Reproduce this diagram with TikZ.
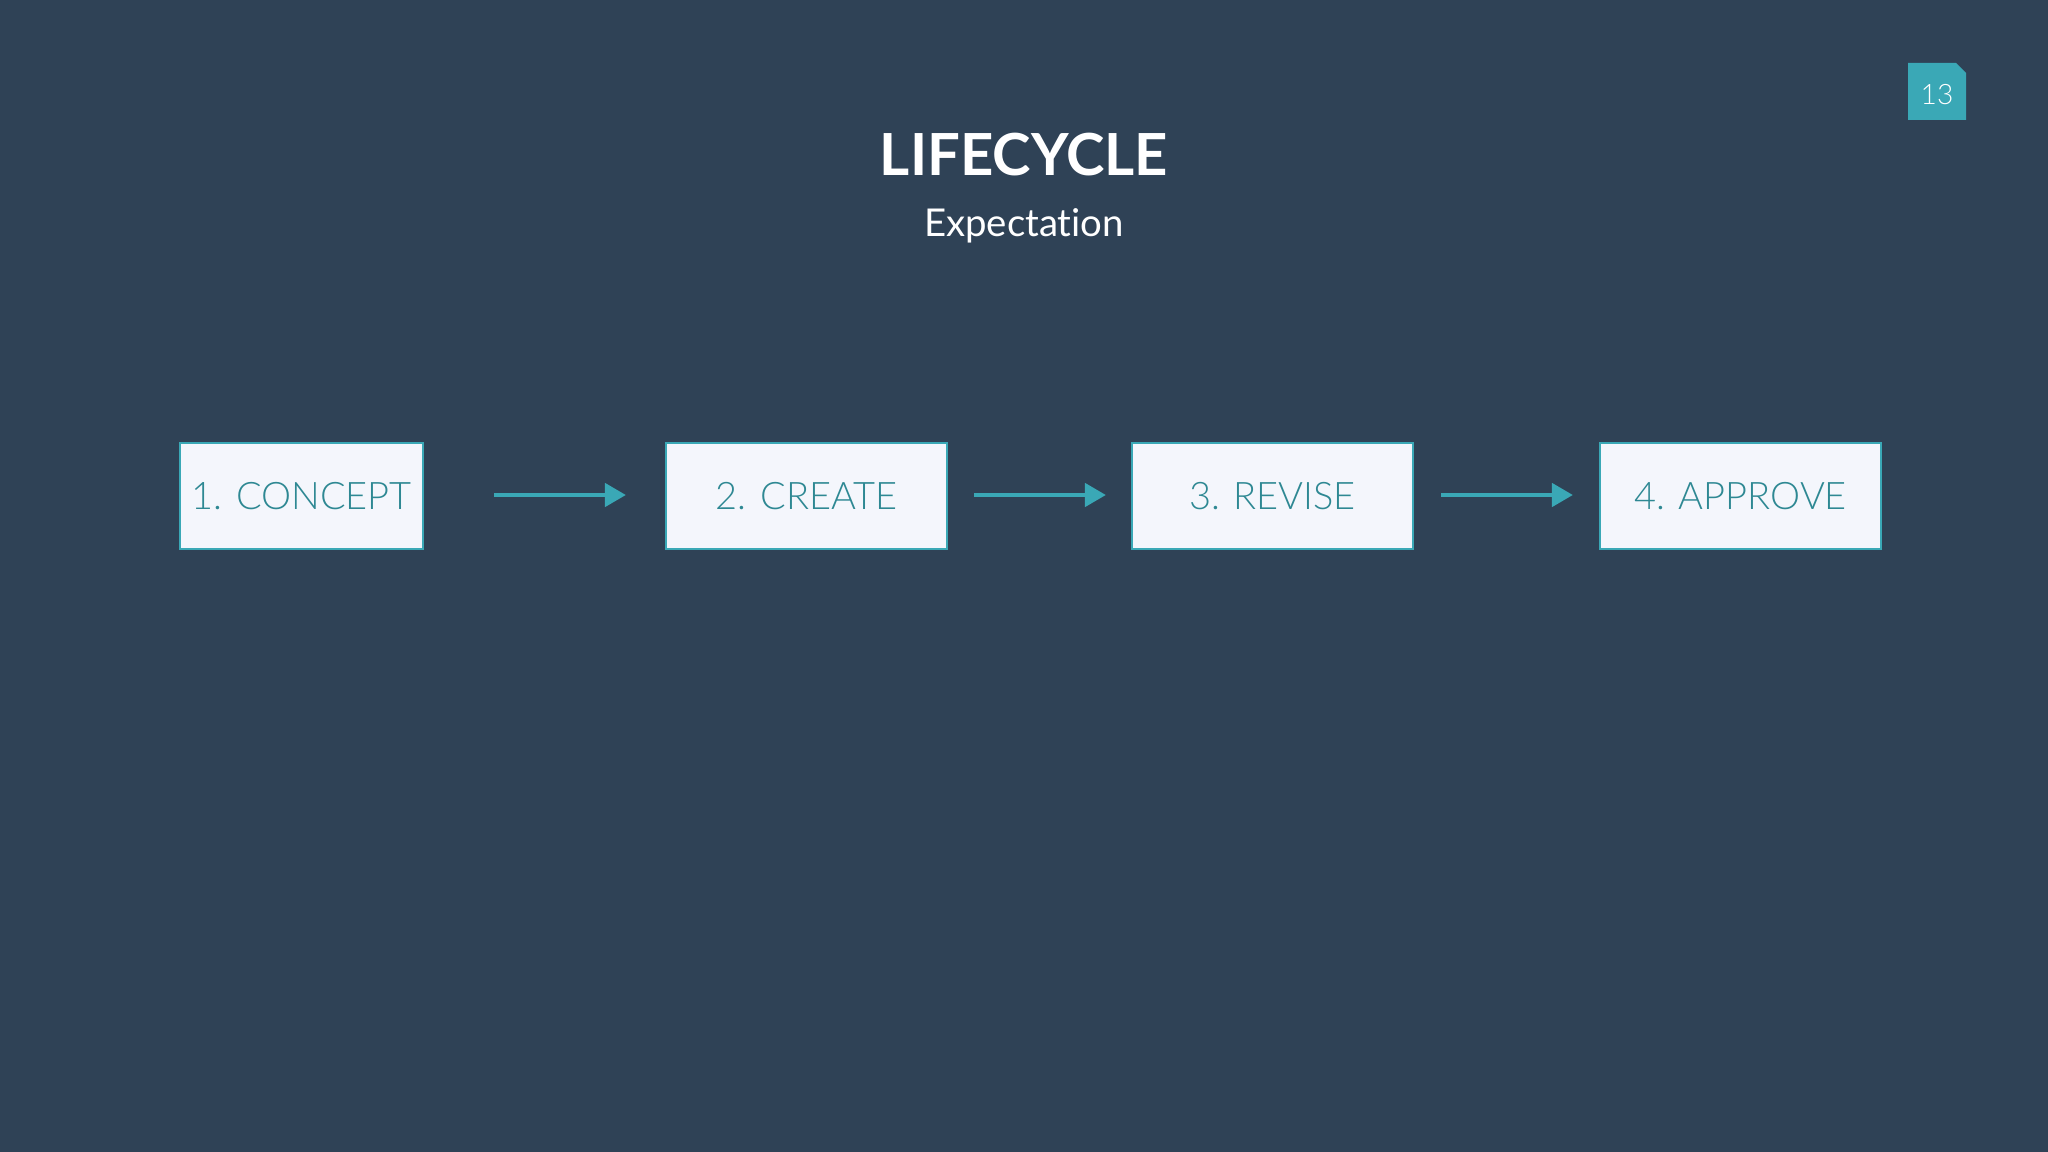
\documentclass[tikz,border=0pt]{standalone}
\usepackage{fontspec}
\setmainfont{Lato}[Ligatures=NoCommon]
\newfontfamily\lightfont{Lato Light}[Ligatures=NoCommon]
\usetikzlibrary{arrows.meta}
\definecolor{bg}{HTML}{2F4256}
\definecolor{teal}{HTML}{3AA8B6}
\definecolor{tealtext}{HTML}{2E8893}
\definecolor{boxfill}{HTML}{F4F6FC}
\tikzset{
  stepbox/.style={draw=teal, line width=0.4pt, fill=boxfill, text=tealtext, inner sep=0pt, minimum height=1.06cm, font=\lightfont\fontsize{10.8}{13}\selectfont},
  flow/.style={draw=teal, line width=1.4pt, -{Triangle[length=6pt,width=6.5pt]}}
}
\begin{document}
\begin{tikzpicture}[x=0.01cm,y=-0.01cm]
\fill[bg] (0,0) rectangle (2048,1152);
\useasboundingbox (0,0) rectangle (2048,1152);
\node[font=\bfseries\fontsize{16.5}{19}\selectfont, text=white] (title) at (1024,154.5) {LIFECYCLE};
\node[font=\fontsize{10.9}{13}\selectfont, text=white] (sub) at (1024,226) {Expectation};
\fill[teal] (1908,63) -- (1956,63) -- (1966,73) -- (1966,120) -- (1908,120) -- cycle;
\node[font=\lightfont\fontsize{8}{10}\selectfont, text=white] (pg) at (1937,94.5) {13};
\node[stepbox, minimum width=2.43cm] (b1) at (301.5,496) {1. CONCEPT};
\node[stepbox, minimum width=2.81cm] (b2) at (806.5,496) {2. CREATE};
\node[stepbox, minimum width=2.81cm] (b3) at (1272.5,496) {3. REVISE};
\node[stepbox, minimum width=2.81cm] (b4) at (1740.5,496) {4. APPROVE};
\coordinate (a1s) at (494,495); \coordinate (a1e) at (626,495);
\coordinate (a2s) at (974,495); \coordinate (a2e) at (1106,495);
\coordinate (a3s) at (1441,495); \coordinate (a3e) at (1573,495);
\draw[flow] (a1s) -- (a1e);
\draw[flow] (a2s) -- (a2e);
\draw[flow] (a3s) -- (a3e);
\end{tikzpicture}
\end{document}
